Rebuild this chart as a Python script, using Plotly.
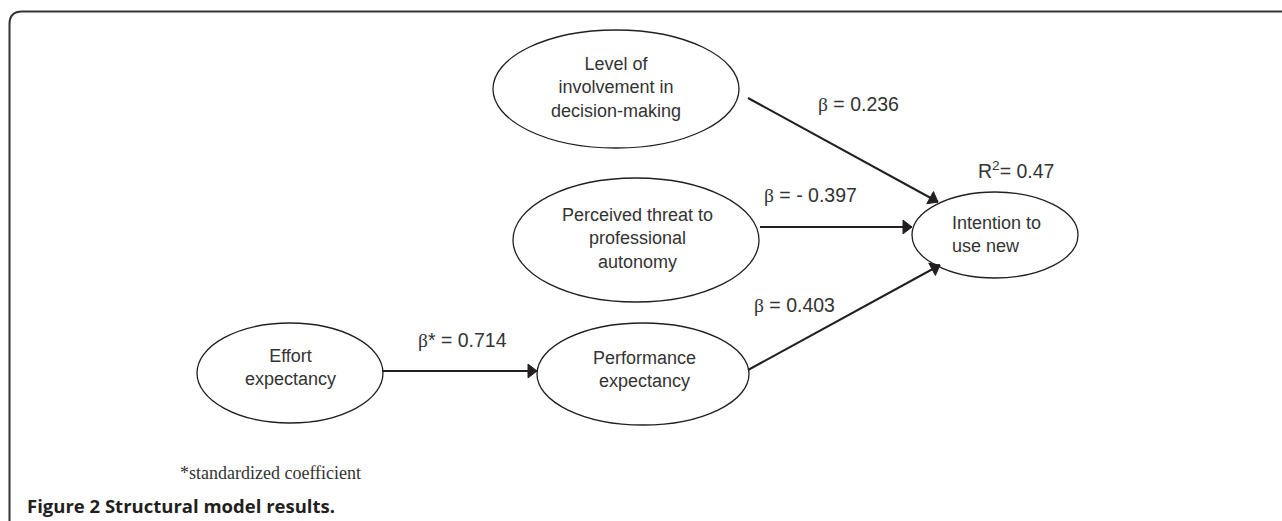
import plotly.graph_objects as go

# ---------------- data ----------------
node_labels = [
    "Level of<br>involvement in<br>decision-making",
    "Perceived threat to<br>professional<br>autonomy",
    "Intention to<br>use new",
    "Effort<br>expectancy",
    "Performance<br>expectancy",
]
path_from = [0, 1, 4, 3]
path_to = [2, 2, 2, 4]
path_coef = [0.236, -0.397, 0.403, 0.714]
path_standardized = [False, False, False, True]
r_squared = 0.47
footnote = "*standardized coefficient"
caption_bold = "Figure 2 Structural model results."

# ---------------- layout geometry (pixels) ----------------
W, H = 1282, 521
ell_center = [(616, 89), (636, 240), (995, 235), (290, 373), (643, 374)]
ell_radius = [(123, 59), (123, 62), (83, 43), (93, 50), (106, 51)]
text_pos = [(616, 87), (637, 238), (950, 234), (290, 367), (644, 369)]
text_align = ["center", "center", "left", "center", "center"]
arrow_start = [(748, 98), (760, 227), (748, 370), (382, 371)]
arrow_end = [(938, 202), (912, 227), (940, 265), (537, 371)]
coef_pos = [(858, 104), (810, 195), (794, 305), (462, 340)]
r2_pos = (1016, 170)

INK = "#231f20"
TXT = "#333333"
BETA = "<span style='font-family:Liberation Serif'>β</span>"

fig = go.Figure()

# arrows: line + solid triangular head oriented along the path
for k, (i, j) in enumerate(zip(path_from, path_to)):
    (sx, sy), (ex, ey) = arrow_start[k], arrow_end[k]
    fig.add_trace(go.Scatter(
        x=[sx, ex], y=[sy, ey], mode="lines",
        line=dict(color=INK, width=2),
        hoverinfo="skip", showlegend=False))
    fig.add_trace(go.Scatter(
        x=[sx, ex], y=[sy, ey], mode="markers",
        marker=dict(symbol="triangle-up", size=[0, 12], angleref="previous",
                    standoff=[0, 6], color=INK, opacity=1,
                    line=dict(width=1, color=INK)),
        hoverinfo="skip", showlegend=False))

shapes = []
# outer rounded frame
shapes.append(dict(type="path", xref="x", yref="y",
                   path="M 9.5,600 L 9.5,24 Q 9.5,11.5 22,11.5 L 1400,11.5",
                   line=dict(color="#333333", width=2)))
for (cx, cy), (rx, ry) in zip(ell_center, ell_radius):
    shapes.append(dict(type="circle", xref="x", yref="y",
                       x0=cx - rx, x1=cx + rx, y0=cy - ry, y1=cy + ry,
                       line=dict(color=INK, width=1.3), fillcolor="rgba(0,0,0,0)"))

annotations = []
for lab, (tx, ty), al in zip(node_labels, text_pos, text_align):
    annotations.append(dict(x=tx, y=ty, xref="x", yref="y", text=lab, showarrow=False,
                            align=al, xanchor="left" if al == "left" else "center",
                            yanchor="middle",
                            font=dict(family="Liberation Sans", size=18, color=TXT)))

for c, st, (lx, ly) in zip(path_coef, path_standardized, coef_pos):
    num = f"- {abs(c):.3f}" if c < 0 else f"{c:.3f}"
    star = "*" if st else ""
    annotations.append(dict(x=lx, y=ly, xref="x", yref="y",
                            text=f"{BETA}{star} = {num}", showarrow=False,
                            xanchor="center", yanchor="middle",
                            font=dict(family="Liberation Sans", size=19.5, color=TXT)))

annotations.append(dict(x=r2_pos[0], y=r2_pos[1], xref="x", yref="y",
                        text=f"R<sup>2</sup>= {r_squared:.2f}", showarrow=False,
                        xanchor="center", yanchor="middle",
                        font=dict(family="Liberation Sans", size=19.5, color=TXT)))

annotations.append(dict(x=178, y=473, xref="x", yref="y", text=footnote, showarrow=False,
                        xanchor="left", yanchor="middle",
                        font=dict(family="Liberation Serif", size=18, color=TXT)))
annotations.append(dict(x=25, y=505, xref="x", yref="y", text=f"<b>{caption_bold}</b>",
                        showarrow=False, xanchor="left", yanchor="middle",
                        font=dict(family="Open Sans", size=18.5, color=INK)))

fig.update_layout(
    width=W, height=H, margin=dict(l=0, r=0, t=0, b=0),
    paper_bgcolor="white", plot_bgcolor="white",
    xaxis=dict(range=[0, W], visible=False, fixedrange=True),
    yaxis=dict(range=[H, 0], visible=False, fixedrange=True),
    shapes=shapes, annotations=annotations,
)
fig.write_html("out.html", config={"displayModeBar": False},
               post_script="document.body.style.margin='0';")
